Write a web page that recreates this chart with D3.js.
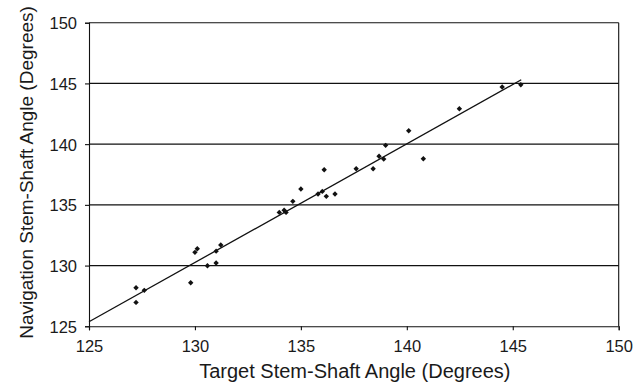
<!DOCTYPE html>
<html>
<head>
<meta charset="utf-8">
<script src="https://cdn.jsdelivr.net/npm/d3@7"></script>
<style>
  html, body { margin: 0; padding: 0; background: #fff; }
  svg { display: block; }
  text { font-family: "Liberation Sans", Arial, sans-serif; fill: #1a1a1a; }
</style>
</head>
<body>
<svg id="chart" width="644" height="387"></svg>
<script>
// Data
const targetAngle = [127.22, 127.61, 127.22, 129.80, 130.59, 130.00, 130.11, 131.00, 131.00, 131.22,
  133.98, 134.21, 134.30, 134.62, 135.00, 135.81, 136.01, 136.20, 136.61, 136.10,
  137.61, 138.41, 138.69, 138.91, 139.00, 140.09, 140.78, 142.48, 144.50, 145.38];
const navigationAngle = [128.17, 127.96, 126.97, 128.58, 129.98, 131.09, 131.38, 130.21, 131.19, 131.69,
  134.38, 134.55, 134.38, 135.29, 136.30, 135.89, 136.11, 135.70, 135.89, 137.89,
  137.97, 137.97, 139.00, 138.77, 139.90, 141.10, 138.80, 142.92, 144.70, 144.89];
const trendX = [125, 145.4];
const trendY = [125.37, 145.3];
const xTicks = [125, 130, 135, 140, 145, 150];
const yTicks = [125, 130, 135, 140, 145, 150];
const xTitle = "Target Stem-Shaft Angle (Degrees)";
const yTitle = "Navigation Stem-Shaft Angle (Degrees)";

(function () {
const svg = d3.select("#chart");
const mL = 89, mR = 618.7, mT = 22.7, mB = 326.3;

const x = d3.scaleLinear().domain([125, 150]).range([mL, mR]);
const y = d3.scaleLinear().domain([125, 150]).range([mB, mT]);

// horizontal gridlines
svg.append("g").selectAll("line").data(yTicks.filter(d => d !== 125)).join("line")
  .attr("x1", mL).attr("x2", mR)
  .attr("y1", d => y(d)).attr("y2", d => y(d))
  .attr("stroke", "#111").attr("stroke-width", 1.1);

// right border
svg.append("line").attr("x1", mR).attr("x2", mR).attr("y1", mT).attr("y2", mB)
  .attr("stroke", "#111").attr("stroke-width", 1.1);

// axes
const xAxis = svg.append("g").attr("transform", `translate(0,${mB})`)
  .call(d3.axisBottom(x).tickValues(xTicks).tickSize(4).tickPadding(10).tickFormat(d3.format("d")));
const yAxis = svg.append("g").attr("transform", `translate(${mL},0)`)
  .call(d3.axisLeft(y).tickValues(yTicks).tickSize(4).tickPadding(8).tickFormat(d3.format("d")));
[xAxis, yAxis].forEach(a => {
  a.select(".domain").attr("stroke", "#111").attr("stroke-width", 1.1);
  a.selectAll(".tick line").attr("stroke", "#111").attr("stroke-width", 1.1);
  a.selectAll("text").style("font-size", "16.5px").style("font-family", "'Liberation Sans', Arial, sans-serif").attr("fill", "#1a1a1a");
});
yAxis.selectAll("text").attr("dy", "0.36em");

// trend line
svg.append("line")
  .attr("x1", x(trendX[0])).attr("y1", y(trendY[0]))
  .attr("x2", x(trendX[1])).attr("y2", y(trendY[1]))
  .attr("stroke", "#111").attr("stroke-width", 1.3);

// points (diamonds)
const pts = targetAngle.map((d, i) => [d, navigationAngle[i]]);
svg.append("g").selectAll("path").data(pts).join("path")
  .attr("transform", d => `translate(${x(d[0])},${y(d[1])})`)
  .attr("d", "M0,-2.7L2.7,0L0,2.7L-2.7,0Z")
  .attr("fill", "#111");

// titles
svg.append("text").attr("x", (mL + mR) / 2 + 1).attr("y", 378)
  .attr("text-anchor", "middle").style("font-size", "20px").text(xTitle);
svg.append("text").attr("transform", `translate(33,${(mT + mB) / 2 - 2}) rotate(-90)`)
  .attr("text-anchor", "middle").style("font-size", "19px").text(yTitle);
})();
</script>
</body>
</html>
